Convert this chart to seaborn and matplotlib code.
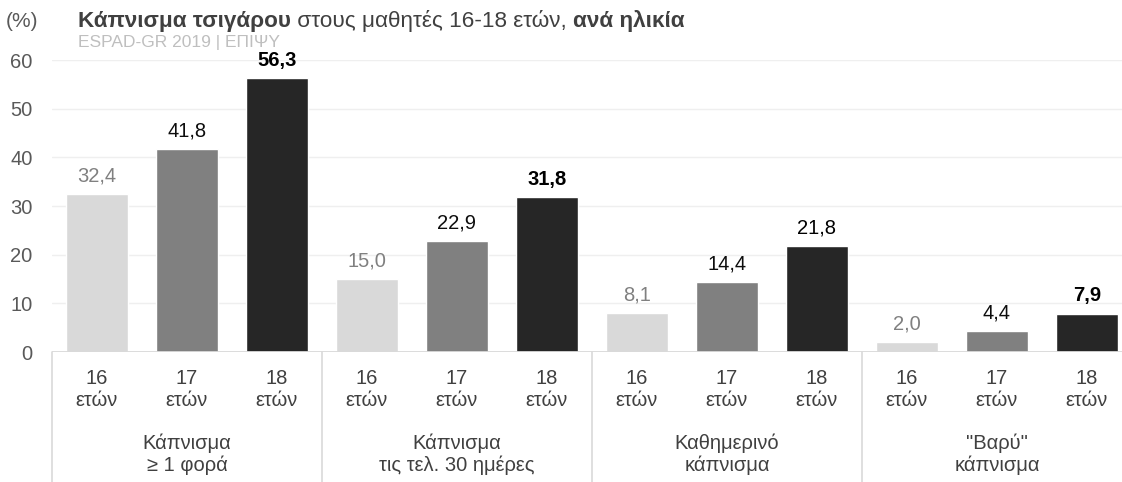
import pandas as pd
import matplotlib.pyplot as plt
import seaborn as sns
from matplotlib.transforms import blended_transform_factory, IdentityTransform

# Δεδομένα (%)
groups = ["Κάπνισμα\n≥ 1 φορά", "Κάπνισμα\nτις τελ. 30 ημέρες",
          "Καθημερινό\nκάπνισμα", "\"Βαρύ\"\nκάπνισμα"]
ages = ["16", "17", "18"]
age_16 = [32.4, 15.0, 8.1, 2.0]
age_17 = [41.8, 22.9, 14.4, 4.4]
age_18 = [56.3, 31.8, 21.8, 7.9]
# στο πρωτότυπο το 21,8 δεν είναι έντονο
bold_18 = [True, True, False, True]
yticks = [0, 10, 20, 30, 40, 50, 60]

sns.set_theme(style="white")
plt.rcParams['font.family'] = ['Liberation Sans', 'DejaVu Sans']

rows = []
for gi, g in enumerate(groups):
    for a, vals in zip(ages, [age_16, age_17, age_18]):
        rows.append({"slot": f"{gi}-{a}", "group": g, "age": a, "value": vals[gi]})
df = pd.DataFrame(rows)

palette = {"16": "#D9D9D9", "17": "#808080", "18": "#262626"}
label_color = {"16": "#808080", "17": "#0D0D0D", "18": "#000000"}

W, H = 1122, 482
fig = plt.figure(figsize=(W / 100, H / 100), dpi=100)
ax = fig.add_axes([52 / W, 130 / H, 1080 / W, 292 / H])

sns.barplot(data=df, x="slot", y="value", hue="age", hue_order=ages,
            palette=palette, dodge=False, width=0.68, saturation=1,
            legend=False, ax=ax, zorder=2)

# ετικέτες τιμών
for cont, a in zip(ax.containers, ages):
    labs = [f"{v:.1f}".replace(".", ",") for v in cont.datavalues]
    texts = ax.bar_label(cont, labels=labs, padding=6, fontsize=14.5,
                         clip_on=False, color=label_color[a])
    if a == "18":
        for t, b in zip(texts, bold_18):
            t.set_fontweight("bold" if b else "normal")

ax.set_ylim(0, 60)
ax.set_xlim(-0.5, 11.5)
ax.set_yticks(yticks)
ax.set_yticklabels([str(t) for t in yticks])
ax.tick_params(axis="y", length=0, pad=14, labelsize=14.5, labelcolor="#595959")
ax.set_xticks(range(len(df)))
ax.set_xticklabels([f"{a}\nετών" for g in groups for a in ages],
                   linespacing=1.15)
ax.tick_params(axis="x", length=0, pad=12.5, labelsize=14.5, labelcolor="#404040")
ax.set_xlabel("")
ax.set_ylabel("")
for s in ax.spines.values():
    s.set_visible(False)
ax.yaxis.grid(True, color="#EFEFEF", lw=1, zorder=0)
ax.set_axisbelow(True)
ax.axhline(0, color="#D9D9D9", lw=1.3, zorder=3)

# διαχωριστικά ομάδων και ετικέτες ομάδων
tr = blended_transform_factory(ax.transData, ax.transAxes)
for k in range(len(groups)):
    ax.plot([k * 3 - 0.5] * 2, [0, -0.5], transform=tr, clip_on=False,
            color="#D9D9D9", lw=1.2)
    ax.text(k * 3 + 1, -0.35, groups[k], transform=tr, ha="center",
            va="center", fontsize=14.5, color="#404040", linespacing=1.15)

# τίτλος με μικτή γραμματοσειρά
renderer = fig.canvas.get_renderer()
fig.text(6, 455, "(%)", transform=IdentityTransform(), fontsize=15,
         color="#595959", va="baseline")
x = 78
runs = [("Κάπνισμα τσιγάρου", "bold"), (" στους μαθητές 16-18 ετών, ", "normal"),
        ("ανά ηλικία", "bold")]
for txt, wgt in runs:
    t = fig.text(x, 455, txt, transform=IdentityTransform(), fontsize=16.2,
                 color="#404040", fontweight=wgt, va="baseline")
    x = t.get_window_extent(renderer).x1
fig.text(78, 439, "ESPAD-GR 2019 | ΕΠΙΨΥ", transform=IdentityTransform(),
         fontsize=12.5, color="#BFBFBF", va="center")

fig.savefig("out.png", dpi=100)
